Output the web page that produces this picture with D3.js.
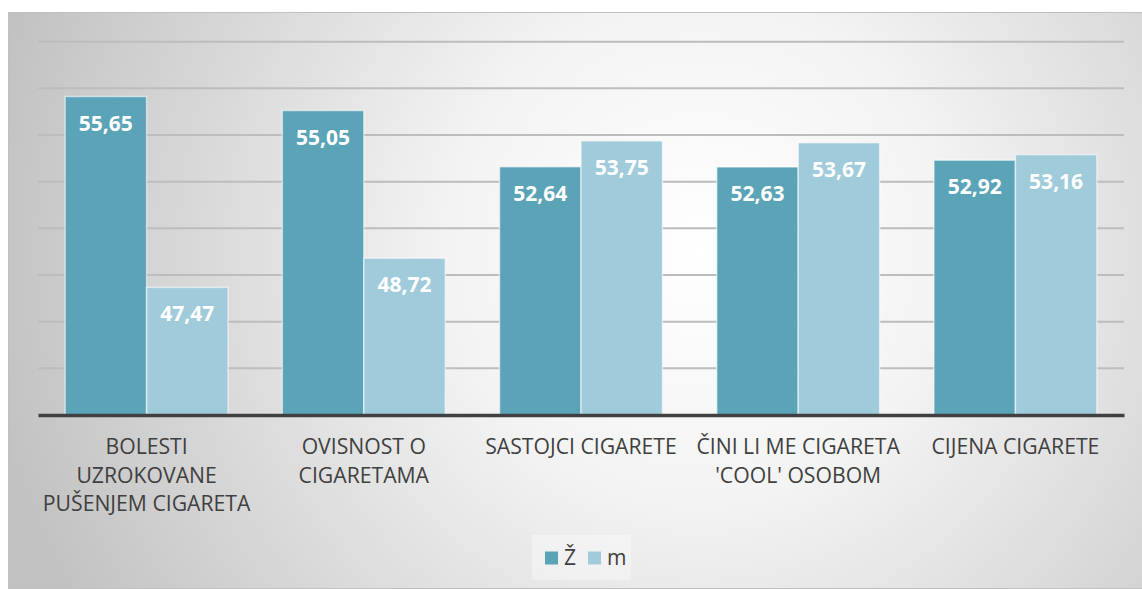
<!DOCTYPE html>
<html><head><meta charset="utf-8">
<script src="https://cdn.jsdelivr.net/npm/d3@7"></script>
<style>body{margin:0;background:#fff;}svg{display:block;font-family:"Open Sans",sans-serif;}</style>
</head><body>
<svg id="c" width="1142" height="589"></svg>
<script>
const categories = [
  ["BOLESTI","UZROKOVANE","PUŠENJEM CIGARETA"],
  ["OVISNOST O","CIGARETAMA"],
  ["SASTOJCI CIGARETE"],
  ["ČINI LI ME CIGARETA","'COOL' OSOBOM"],
  ["CIJENA CIGARETE"]
];
const seriesNames = ["Ž","m"];
const valuesZ = [55.65, 55.05, 52.64, 52.63, 52.92];
const valuesM = [47.47, 48.72, 53.75, 53.67, 53.16];
const yTicks = [42,44,46,48,50,52,54,56,58];
const colors = ["#5ba3b7","#a0cbdb"];

(function(){
const svg = d3.select("#c");
const defs = svg.append("defs");
const rg = defs.append("radialGradient").attr("id","bg")
  .attr("gradientUnits","userSpaceOnUse").attr("cx",700).attr("cy",250).attr("r",720);
rg.append("stop").attr("offset","0%").attr("stop-color","#ffffff");
rg.append("stop").attr("offset","35%").attr("stop-color","#f3f3f3");
rg.append("stop").attr("offset","100%").attr("stop-color","#c2c2c2");

svg.append("rect").attr("x",8.5).attr("y",12.5).attr("width",1140).attr("height",576)
  .attr("fill","url(#bg)").attr("stroke","#c0c0c0").attr("stroke-width",1);

const pl = 38, pr = 1124, pt = 41.7, pb = 415;
const x0 = d3.scaleBand().domain(d3.range(categories.length)).range([pl,pr]).paddingInner(0).paddingOuter(0);
const x1 = d3.scaleBand().domain([0,1]).range([0,x0.bandwidth()]).paddingInner(0).paddingOuter(0.333);
const y = d3.scaleLinear().domain([42,58]).range([pb, pt]);

svg.append("g").selectAll("line").data(yTicks.slice(1)).join("line")
  .attr("x1",pl).attr("x2",pr).attr("y1",d=>y(d)).attr("y2",d=>y(d))
  .attr("stroke","#bdbdbd").attr("stroke-width",2);

const data = categories.map((c,i)=>[valuesZ[i], valuesM[i]]);
const fmt = v => d3.format(".2f")(v).replace(".",",");

const groups = svg.append("g").selectAll("g").data(data).join("g")
  .attr("transform",(d,i)=>`translate(${x0(i)},0)`);
groups.selectAll("rect").data(d=>d).join("rect")
  .attr("x",(d,j)=>x1(j)).attr("width",x1.bandwidth())
  .attr("y",d=>y(d)).attr("height",d=>y(42)-y(d))
  .attr("fill",(d,j)=>colors[j])
  .attr("stroke","rgba(255,255,255,0.55)").attr("stroke-width",1.5);
groups.selectAll("text").data(d=>d).join("text")
  .attr("x",(d,j)=>x1(j)+x1.bandwidth()/2).attr("y",d=>y(d)+34)
  .attr("text-anchor","middle").attr("fill","#fff").attr("font-weight","bold")
  .attr("font-size",21).text(fmt);

const xAxis = d3.axisBottom(x0).tickSize(0).tickFormat("");
const ax = svg.append("g").attr("transform",`translate(0,${pb})`).call(xAxis);
ax.select(".domain").attr("stroke","#404040").attr("stroke-width",3.5);

const lab = svg.append("g").selectAll("text").data(categories).join("text")
  .attr("text-anchor","middle").attr("fill","#404040").attr("font-size",21.2)
  .attr("transform",(d,i)=>`translate(${x0(i)+x0.bandwidth()/2},454)`);
lab.selectAll("tspan").data(d=>d).join("tspan")
  .attr("x",0).attr("y",(d,k)=>k*28.5).text(d=>d);

const lg = svg.append("g");
lg.append("rect").attr("x",532).attr("y",535).attr("width",99).attr("height",45)
  .attr("fill","rgba(255,255,255,0.35)");
const lx = [545, 588];
seriesNames.forEach((s,i)=>{
  lg.append("rect").attr("x",lx[i]).attr("y",551.5).attr("width",13).attr("height",13).attr("fill",colors[i]);
  lg.append("text").attr("x",lx[i]+19).attr("y",565).attr("font-size",21).attr("fill","#404040").text(s);
});
})();
</script>
</body></html>
